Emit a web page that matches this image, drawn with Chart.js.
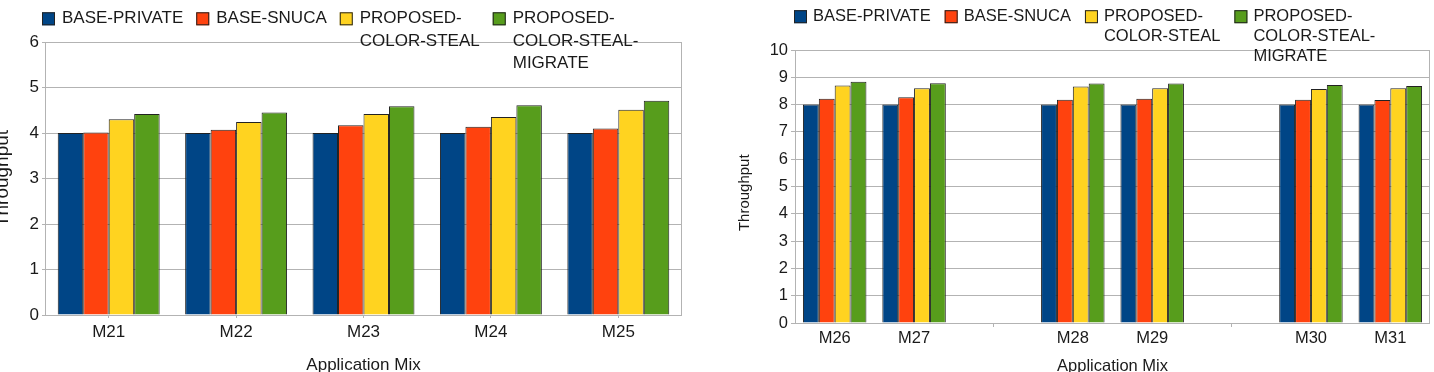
<!DOCTYPE html>
<html>
<head>
<meta charset="utf-8">
<script src="https://cdn.jsdelivr.net/npm/chart.js@4.4.0/dist/chart.umd.min.js"></script>
<style>
  html, body { margin: 0; padding: 0; background: #fff; }
  #wrap { position: relative; width: 1434px; height: 372px; overflow: hidden; }
  .panel { position: absolute; top: 0; width: 717px; height: 372px; }
</style>
</head>
<body>
<div id="wrap">
  <div class="panel" style="left:0"><canvas id="leftChart"></canvas></div>
  <div class="panel" style="left:717px"><canvas id="rightChart"></canvas></div>
</div>
<script>
// series shared by both panels
const seriesNames = [
  ['BASE-PRIVATE'],
  ['BASE-SNUCA'],
  ['PROPOSED-', 'COLOR-STEAL'],
  ['PROPOSED-', 'COLOR-STEAL-', 'MIGRATE']
];
const seriesColors = ['#004586', '#ff420e', '#ffd320', '#579d1c'];

// left panel
const leftMixes = ['M21', 'M22', 'M23', 'M24', 'M25'];
const leftPrivate = [4, 4, 4, 4, 4];
const leftSnuca = [4.01, 4.07, 4.17, 4.14, 4.1];
const leftColorSteal = [4.3, 4.24, 4.42, 4.35, 4.51];
const leftMigrate = [4.42, 4.45, 4.59, 4.61, 4.71];
const leftTicks = { min: 0, max: 6, step: 1 };

// right panel (blank slots are the gaps between pairs)
const rightMixes = ['M26', 'M27', '', 'M28', 'M29', '', 'M30', 'M31'];
const rightPrivate = [8, 8, null, 8, 8, null, 8, 8];
const rightSnuca = [8.21, 8.27, null, 8.18, 8.21, null, 8.18, 8.17];
const rightColorSteal = [8.7, 8.6, null, 8.66, 8.6, null, 8.57, 8.6];
const rightMigrate = [8.84, 8.78, null, 8.77, 8.77, null, 8.72, 8.68];
const rightTicks = { min: 0, max: 10, step: 1 };

const FONT = '"Liberation Sans", Arial, sans-serif';
const TEXT = '#1a1a1a';
const GRID = '#b3b3b3';

// legend drawn over the plot, like the original
const boxLegend = {
  id: 'boxLegend',
  afterDraw(chart, args, o) {
    const ctx = chart.ctx;
    ctx.save();
    ctx.font = o.size + 'px ' + FONT;
    ctx.textBaseline = 'middle';
    let x = o.x;
    chart.data.datasets.forEach((ds, i) => {
      ctx.fillStyle = ds.backgroundColor;
      ctx.fillRect(x, o.y - o.box / 2, o.box, o.box);
      ctx.strokeStyle = '#222';
      ctx.lineWidth = 1;
      ctx.strokeRect(x + 0.5, o.y - o.box / 2 + 0.5, o.box - 1, o.box - 1);
      ctx.fillStyle = TEXT;
      let w = 0;
      seriesNames[i].forEach((t, j) => {
        ctx.fillText(t, x + o.box + o.gap, o.y + j * o.lineHeight);
        w = Math.max(w, ctx.measureText(t).width);
      });
      x += o.box + o.gap + w + o.itemGap;
    });
    ctx.restore();
  }
};

// grey frame around the plot area
const plotFrame = {
  id: 'plotFrame',
  beforeDatasetsDraw(chart) {
    const { ctx, chartArea: a } = chart;
    ctx.save();
    ctx.strokeStyle = GRID;
    ctx.lineWidth = 1;
    ctx.strokeRect(Math.round(a.left) + 0.5, Math.round(a.top) + 0.5,
      Math.round(a.right - a.left) - 1, Math.round(a.bottom - a.top));
    ctx.restore();
  }
};

function makeChart(id, labels, values, ticks, box) {
  const datasets = values.map((data, i) => ({
    label: seriesNames[i].join(''),
    data,
    backgroundColor: seriesColors[i],
    borderColor: '#222',
    borderWidth: 1,
    categoryPercentage: 0.8,
    barPercentage: 1.0
  }));

  return new Chart(document.getElementById(id), {
    type: 'bar',
    data: { labels, datasets },
    plugins: [boxLegend, plotFrame],
    options: {
      responsive: false,
      animation: false,
      events: [],
      layout: { padding: { top: box.top, right: 717 - box.right, bottom: 0, left: 0 } },
      plugins: {
        legend: { display: false },
        tooltip: { enabled: false },
        boxLegend: box.legend
      },
      scales: {
        x: {
          afterFit: s => { s.height = 372 - box.bottom; },
          grid: {
            offset: false,
            drawOnChartArea: false,
            drawTicks: true,
            tickLength: box.xTickLen,
            color: c => (box.allTicks || labels[c.index] === '' ? GRID : 'rgba(0,0,0,0)')
          },
          border: { display: false },
          ticks: { color: TEXT, font: { family: FONT, size: box.size }, padding: box.xPad, maxRotation: 0, autoSkip: false },
          title: {
            display: true,
            text: 'Application Mix',
            color: TEXT,
            font: { family: FONT, size: box.xTitleSize },
            padding: { top: 0, bottom: box.xTitlePad }
          }
        },
        y: {
          min: ticks.min,
          max: ticks.max,
          afterFit: s => { s.width = box.left; },
          grid: { color: GRID, drawTicks: true, tickLength: box.yTickLen },
          border: { color: GRID },
          ticks: { stepSize: ticks.step, color: TEXT, font: { family: FONT, size: box.size }, padding: 3 },
          title: {
            display: true,
            // trailing spaces nudge the rotated title a little lower
            text: 'Throughput' + ' '.repeat(box.yTitleShift),
            color: TEXT,
            font: { family: FONT, size: box.yTitleSize },
            padding: { top: box.yTitlePad, bottom: 0 }
          }
        }
      }
    }
  });
}

const leftCanvas = document.getElementById('leftChart');
leftCanvas.width = 717; leftCanvas.height = 372;
const rightCanvas = document.getElementById('rightChart');
rightCanvas.width = 717; rightCanvas.height = 372;

makeChart('leftChart', leftMixes,
  [leftPrivate, leftSnuca, leftColorSteal, leftMigrate], leftTicks,
  {
    left: 45, right: 682, top: 42, bottom: 315, size: 17,
    xTickLen: 3, allTicks: true, yTickLen: 3,
    xPad: 4, xTitleSize: 17, xTitlePad: -4, yTitleSize: 19, yTitlePad: -8.5, yTitleShift: 0,
    legend: { x: 42, y: 18.8, box: 13, gap: 7, itemGap: 13, lineHeight: 22.5, size: 17 }
  });

makeChart('rightChart', rightMixes,
  [rightPrivate, rightSnuca, rightColorSteal, rightMigrate], rightTicks,
  {
    left: 78, right: 713, top: 50, bottom: 323, size: 16.5,
    xTickLen: 4, allTicks: false, yTickLen: 4,
    xPad: 2, xTitleSize: 16.5, xTitlePad: -4.5, yTitleSize: 15, yTitlePad: 19, yTitleShift: 3,
    legend: { x: 77, y: 16.7, box: 13, gap: 6, itemGap: 14, lineHeight: 20, size: 16.5 }
  });
</script>
</body>
</html>
